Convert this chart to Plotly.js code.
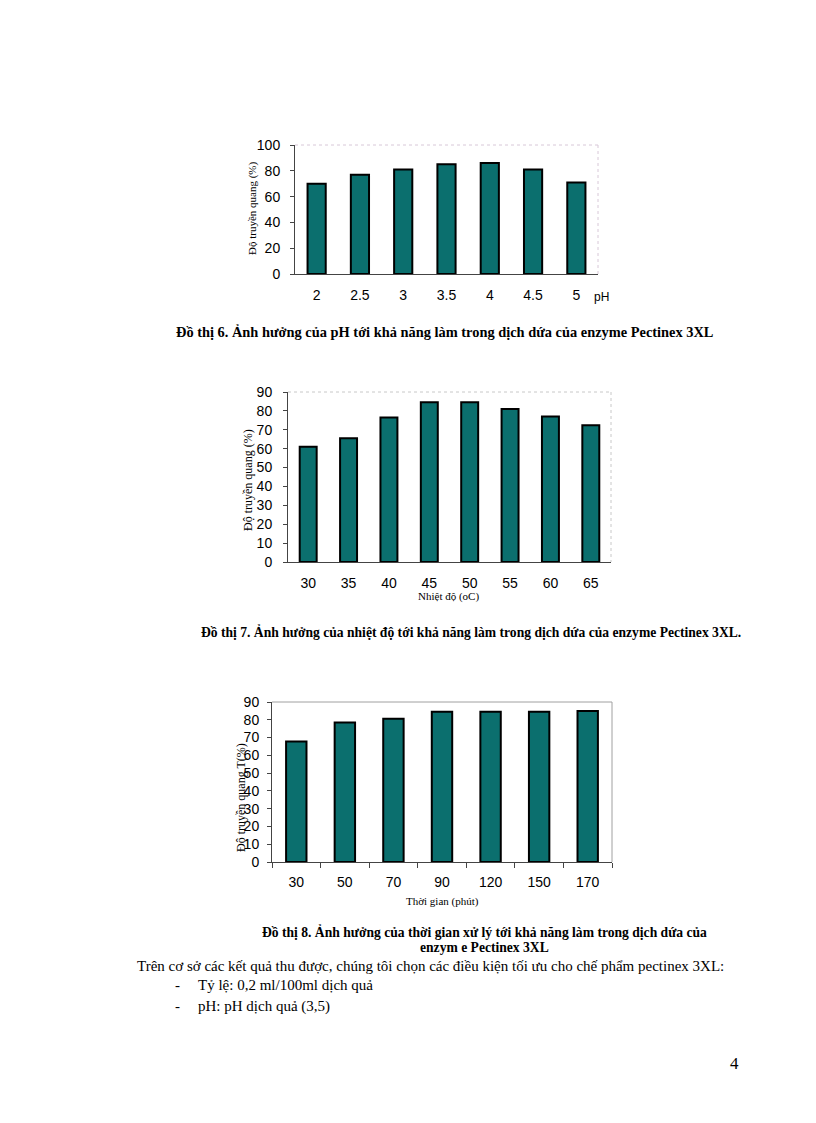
<!DOCTYPE html>
<html>
<head>
<meta charset="utf-8">
<script src="https://cdn.plot.ly/plotly-3.0.1.min.js"></script>
<style>
html,body{margin:0;padding:0;background:#fff;}
#chart{width:816px;height:1123px;}
</style>
</head>
<body>
<div id="chart"></div>
<script>
// ---- Data ----
const phLabels = ['2','2.5','3','3.5','4','4.5','5'];
const phValues = [70, 77, 81, 85, 86, 81, 71];

const tempLabels = ['30','35','40','45','50','55','60','65'];
const tempValues = [61, 65.5, 76.5, 84.6, 84.6, 81, 77, 72.4];

const timeLabels = ['30','50','70','90','120','150','170'];
const timeValues = [67.8, 78.5, 80.6, 84.5, 84.5, 84.5, 85];

// ---- Layout helpers (page pixel -> paper) ----
const W = 816, H = 1123;
const px = x => x / W;
const py = y => 1 - y / H;

const barColor = '#0b6f6e';
const tickFont = {family: 'Liberation Sans, Arial, sans-serif', size: 14, color: '#000'};
const serif = 'Liberation Serif, Times New Roman, serif';

function bar(xs, ys, xa, ya) {
  return {type: 'bar', x: xs, y: ys, xaxis: xa, yaxis: ya, width: 0.42,
    marker: {color: barColor, line: {color: '#000', width: 2}}, hoverinfo: 'none'};
}

const data = [
  bar(phLabels, phValues, 'x', 'y'),
  bar(tempLabels, tempValues, 'x2', 'y2'),
  bar(timeLabels, timeValues, 'x3', 'y3')
];

function xaxis(dom, anchor, ticks) {
  return {domain: dom, anchor: anchor, type: 'category', showgrid: false, zeroline: false,
    showline: true, linecolor: '#444', linewidth: 1, tickfont: tickFont,
    ticks: ticks ? 'outside' : '', ticklen: 5, tickcolor: '#444', tickson: ticks ? 'boundaries' : undefined,
    ticklabelstandoff: ticks ? 7 : 8, fixedrange: true};
}
function yaxis(dom, anchor, range, dtick, standoff) {
  return {domain: dom, anchor: anchor, range: range, dtick: dtick, showgrid: false, zeroline: false,
    showline: true, linecolor: '#444', linewidth: 1, ticks: 'outside', ticklen: 4, tickcolor: '#444',
    tickfont: tickFont, ticklabelstandoff: standoff, fixedrange: true};
}

// plot areas in page pixels
const c1 = {l: 295, r: 598, t: 145, b: 274};
const c2 = {l: 288, r: 611, t: 392, b: 562};
const c3 = {l: 272, r: 612, t: 702, b: 862};

function border(c, color, dash) {
  return [
    {type: 'line', xref: 'paper', yref: 'paper', x0: px(c.l), x1: px(c.r), y0: py(c.t), y1: py(c.t), line: {color: color, width: 1, dash: dash}},
    {type: 'line', xref: 'paper', yref: 'paper', x0: px(c.r), x1: px(c.r), y0: py(c.t), y1: py(c.b), line: {color: color, width: 1, dash: dash}}
  ];
}

function note(text, x, y, opts) {
  return Object.assign({text: text, xref: 'paper', yref: 'paper', x: px(x), y: py(y),
    showarrow: false, xanchor: 'center', yanchor: 'middle',
    font: {family: serif, size: 12, color: '#000'}}, opts || {});
}

const capFont = {family: serif, size: 13.6, color: '#000'};
const bodyFont = {family: serif, size: 15, color: '#000'};

const annotations = [
  // y-axis titles
  note('Độ truyền quang (%)', 253, 208, {textangle: -90, font: {family: serif, size: 11, color: '#000'}}),
  note('Độ truyền quang (%)', 248, 480, {textangle: -90, font: {family: serif, size: 12, color: '#000'}}),
  note('Độ truyền quang T(%)', 241, 798, {textangle: -90, font: {family: serif, size: 12, color: '#000'}}),
  // x-axis titles
  note('pH', 601, 297, {font: {family: 'Liberation Sans, Arial, sans-serif', size: 12, color: '#000'}}),
  note('Nhiệt độ (oC)', 448, 596, {font: {family: serif, size: 11, color: '#000'}}),
  note('Thời gian (phút)', 443, 901, {font: {family: serif, size: 11, color: '#000'}}),
  // captions
  note('<b>Đồ thị 6. Ảnh hưởng của pH tới khả năng làm trong dịch dứa của enzyme Pectinex 3XL</b>', 445, 332, {font: {family: serif, size: 14.4, color: '#000'}}),
  note('<b>Đồ thị 7. Ảnh hưởng của nhiệt độ tới khả năng làm trong dịch dứa của enzyme Pectinex 3XL.</b>', 471, 632, {font: capFont}),
  note('<b>Đồ thị 8. Ảnh hưởng của thời gian xử lý tới khả năng làm trong dịch dứa của</b>', 484, 932, {font: capFont}),
  note('<b>enzym e Pectinex 3XL</b>', 484, 947, {font: capFont}),
  // body text
  note('Trên cơ sở các kết quả thu được, chúng tôi chọn các điều kiện tối ưu cho chế phẩm pectinex 3XL:', 135, 966, {xanchor: 'left', font: bodyFont}),
  note('-', 173, 985, {xanchor: 'left', font: bodyFont}),
  note('Tỷ lệ: 0,2 ml/100ml dịch quả', 196, 985, {xanchor: 'left', font: bodyFont}),
  note('-', 173, 1006, {xanchor: 'left', font: bodyFont}),
  note('pH: pH dịch quả (3,5)', 196, 1006, {xanchor: 'left', font: bodyFont}),
  // page number
  note('4', 734, 1063, {font: {family: serif, size: 17, color: '#000'}})
];

const layout = {
  width: W, height: H,
  margin: {l: 0, r: 0, t: 0, b: 0},
  paper_bgcolor: '#fff', plot_bgcolor: '#fff',
  showlegend: false,
  bargap: 0.58,
  xaxis: xaxis([px(c1.l), px(c1.r)], 'y', false),
  yaxis: yaxis([py(c1.b), py(c1.t)], 'x', [0, 100], 20, 7),
  xaxis2: xaxis([px(c2.l), px(c2.r)], 'y2', false),
  yaxis2: yaxis([py(c2.b), py(c2.t)], 'x2', [0, 90], 10, 8),
  xaxis3: xaxis([px(c3.l), px(c3.r)], 'y3', true),
  yaxis3: yaxis([py(c3.b), py(c3.t)], 'x3', [0, 90], 10, 5),
  shapes: [].concat(border(c1, '#d8c8d8', 'dot'), border(c2, '#c8c8c8', 'dot'), border(c3, '#a0a0a0', 'solid')),
  annotations: annotations
};

Plotly.newPlot('chart', data, layout, {staticPlot: true, displayModeBar: false});
</script>
</body>
</html>
